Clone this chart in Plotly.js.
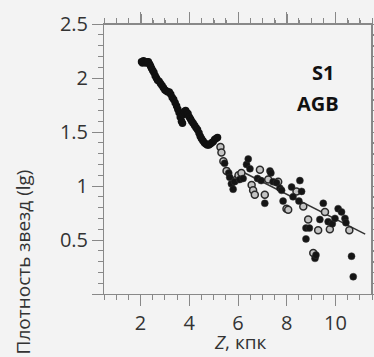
<!DOCTYPE html>
<html>
<head>
<meta charset="utf-8">
<script src="https://cdn.plot.ly/plotly-3.0.1.min.js"></script>
<style>
  html, body { margin: 0; padding: 0; background: #f3f3f3; overflow: hidden; }
  #wrap { position: relative; width: 374px; height: 357px; }
  #chart { width: 374px; height: 357px; }
  #frame { position: absolute; left: 0; top: 0; width: 374px; height: 357px; pointer-events: none; }
</style>
</head>
<body>
<div id="wrap">
  <div id="chart"></div>
  <svg id="frame" width="374" height="357" xmlns="http://www.w3.org/2000/svg"></svg>
</div>
<script>
// Dense AGB profile (inner part)
const trackX = [2.04,2.08,2.12,2.17,2.22,2.27,2.32,2.37,2.41,2.45,2.50,2.55,2.60,2.65,2.70,2.76,2.82,2.88,2.94,3.00,3.06,3.12,3.18,3.24,3.30,3.36,3.42,3.48,3.53,3.58,3.63,3.68,3.72,3.76,3.80,3.85,3.90,3.95,4.00,4.05,4.10,4.16,4.22,4.28,4.34,4.40,4.45,4.50,4.56,4.62,4.68,4.74,4.80,4.86,4.92,4.98,5.04,5.10,5.16];
const trackY = [2.15,2.14,2.16,2.15,2.14,2.15,2.15,2.13,2.11,2.09,2.07,2.05,2.02,2.00,1.98,1.97,1.95,1.93,1.91,1.89,1.88,1.87,1.87,1.85,1.82,1.80,1.77,1.74,1.71,1.68,1.64,1.60,1.58,1.66,1.69,1.70,1.68,1.67,1.64,1.62,1.60,1.58,1.56,1.54,1.52,1.49,1.46,1.44,1.42,1.40,1.39,1.38,1.38,1.39,1.40,1.41,1.43,1.44,1.45];

// Outer part: open circles
const openX = [5.28,5.32,5.40,5.53,5.94,6.02,6.14,6.56,6.62,6.69,6.90,7.10,7.24,7.65,7.99,8.06,8.40,8.68,8.88,9.09,9.29,9.57,9.77,10.57];
const openY = [1.36,1.31,1.23,1.14,1.06,1.10,1.12,1.01,0.96,0.92,1.15,0.92,1.06,1.04,0.79,0.78,0.95,0.81,0.69,0.38,0.59,0.76,0.60,0.59];

// Outer part: filled points
const fillX = [5.45,5.62,5.66,5.73,5.80,5.86,6.07,6.21,6.35,6.42,6.49,6.80,6.95,7.10,7.31,7.35,7.44,7.58,7.72,7.79,7.85,8.20,8.26,8.50,8.54,8.61,8.79,8.93,8.79,9.16,9.20,9.36,9.50,9.70,9.87,9.98,10.11,10.25,10.39,10.43,10.66,10.73];
const fillY = [1.21,1.12,1.08,1.02,0.97,1.04,1.06,1.07,1.20,1.25,1.16,1.07,1.05,0.84,1.14,1.12,1.04,1.03,0.98,0.96,0.86,0.99,0.90,0.86,1.05,0.95,0.61,0.61,0.51,0.33,0.36,0.69,0.84,0.67,0.65,0.70,0.79,0.76,0.70,0.66,0.35,0.16];

// Linear fit
const fitX = [6.2, 11.22];
const fitY = [1.13, 0.555];

const xTickVals = [2, 4, 6, 8, 10];
const xTickText = ['2', '4', '6', '8', '10'];
const yTickVals = [0, 0.5, 1, 1.5, 2, 2.5];
const yTickText = ['', '0.5', '1', '1.5', '2', '2.5'];
const X_MINOR_STEP = 0.5;
const Y_MINOR_STEP = 0.1;

const FONT = 'Open Sans';
const AX = '#888';
const BG = '#f3f3f3';

const traces = [
  { x: fitX, y: fitY, type: 'scatter', mode: 'lines',
    line: { color: '#333', width: 1.5 }, hoverinfo: 'skip' },
  { x: openX, y: openY, type: 'scatter', mode: 'markers',
    marker: { size: 7, color: '#c4c4c4', line: { color: '#2a2a2a', width: 1.5 } } },
  { x: fillX, y: fillY, type: 'scatter', mode: 'markers',
    marker: { size: 7, color: '#151515', line: { color: '#333', width: 0.5 } } },
  { x: trackX, y: trackY, type: 'scatter', mode: 'markers',
    marker: { size: 7.5, color: '#111', line: { width: 0 } } }
];

function axisBase(extra) {
  return Object.assign({
    showline: true, linecolor: AX, mirror: 'ticks',
    ticks: 'outside', ticklen: 11, tickcolor: AX,
    showgrid: false, zeroline: false, tickmode: 'array',
    tickfont: { family: FONT, size: 20, color: '#333' }
  }, extra);
}
const xMinor = { tickmode: 'linear', tick0: 0.5, dtick: X_MINOR_STEP, ticklen: 5, tickcolor: AX, ticks: 'outside' };
const yMinor = { tickmode: 'linear', tick0: 0, dtick: Y_MINOR_STEP, ticklen: 5, tickcolor: AX, ticks: 'outside' };

const layout = {
  width: 374, height: 357,
  margin: { l: 104, r: 2, t: 24, b: 63 },
  paper_bgcolor: BG, plot_bgcolor: BG,
  showlegend: false,
  xaxis: axisBase({ range: [0.5, 11.5], tickvals: xTickVals, ticktext: xTickText, minor: xMinor }),
  yaxis: axisBase({ range: [0, 2.5], tickvals: yTickVals, ticktext: yTickText, minor: yMinor }),
  annotations: [
    { text: 'Плотность звезд (lg)', textangle: -90, xref: 'paper', yref: 'paper',
      x: -0.303, y: 0.47, xanchor: 'center', yanchor: 'top', showarrow: false,
      font: { family: FONT, size: 19, color: '#333' } },
    { text: '<i>Z</i>, кпк', xref: 'paper', yref: 'paper',
      x: 0.51, y: -0.233, xanchor: 'center', yanchor: 'bottom', showarrow: false,
      font: { family: FONT, size: 19, color: '#333' } },
    { text: '<b>S1</b>', xref: 'paper', yref: 'paper',
      x: 0.818, y: 0.819, xanchor: 'center', yanchor: 'middle', showarrow: false,
      font: { family: FONT, size: 20, color: '#111' } },
    { text: '<b>AGB</b>', xref: 'paper', yref: 'paper',
      x: 0.799, y: 0.706, xanchor: 'center', yanchor: 'middle', showarrow: false,
      font: { family: FONT, size: 20, color: '#111' } }
  ]
};

// Frame on the top/right sides, positioned through Plotly's own axis scales
function drawFrame() {
  const gd = document.getElementById('chart');
  const fl = gd._fullLayout;
  if (!fl || !fl.xaxis || !fl.yaxis) return;
  const xa = fl.xaxis, ya = fl.yaxis;
  const px = v => xa._offset + xa.l2p(v);
  const py = v => ya._offset + ya.l2p(v);
  const left = Math.round(xa._offset) + 0.5;
  const right = Math.round(xa._offset + xa._length) - 0.5;
  const top = Math.round(ya._offset) + 0.5;
  const bottom = Math.round(ya._offset + ya._length) - 0.5;
  let d = 'M' + left + ',' + top + 'H' + right + 'V' + bottom;
  const xr = xa.range, yr = ya.range;
  for (let v = xr[0]; v <= xr[1] + 1e-9; v += X_MINOR_STEP) {
    const isMajor = xTickVals.some(t => Math.abs(t - v) < 1e-6);
    const x = Math.round(px(v)) + 0.5;
    d += 'M' + x + ',' + top + 'v' + (-(isMajor ? 11 : 5));
  }
  for (let i = 0; yr[0] + i * Y_MINOR_STEP <= yr[1] + 1e-9; i++) {
    const v = yr[0] + i * Y_MINOR_STEP;
    const isMajor = yTickVals.some(t => Math.abs(t - v) < 1e-6);
    const y = Math.round(py(v)) + 0.5;
    d += 'M' + right + ',' + y + 'h' + (isMajor ? 11 : 5);
  }
  const svg = document.getElementById('frame');
  svg.innerHTML = '<path d="' + d + '" fill="none" stroke="' + AX + '" stroke-width="1" shape-rendering="crispEdges"/>';
}

Plotly.newPlot('chart', traces, layout, { displayModeBar: false })
  .then(drawFrame)
  .catch(function () { try { drawFrame(); } catch (e) {} });
</script>
</body>
</html>
